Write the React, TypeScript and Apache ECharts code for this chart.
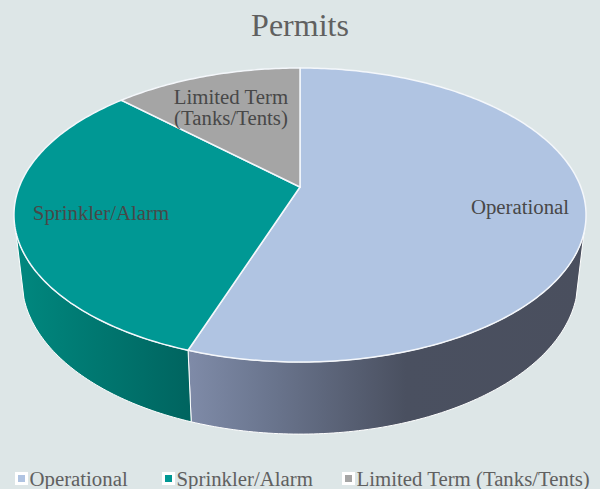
import React, { useEffect, useRef } from "react";
import * as echarts from "echarts";

const names = ["Operational", "Sprinkler/Alarm", "Limited Term (Tanks/Tents)"];
const sliceLabels = ["Operational", "Sprinkler/Alarm", "Limited Term\n(Tanks/Tents)"];
const values = [55.3, 31.9, 12.8];
const titleText = "Permits";

const FONT = '"Liberation Serif", serif';
const topColors = ["#b0c4e2", "#009894", "#a5a5a5"];
const sideStops = [
  [[0, "#7f8ba8"], [0.2, "#6b768f"], [0.55, "#4a5060"], [1, "#4a4f5e"]],
  [[0, "#00887f"], [1, "#00645f"]],
  null,
];
const labelAnchors = [[520, 206], [101, 212], [231, 107]];
const legendIconLeft = [15, 162, 342];

// Perspective projection of the unit circle that forms the pie's top and bottom faces.
const CX = 300, TOP_Y = 187, BOTTOM_Y = 250.7, BOTTOM_SX = 0.972, BOTTOM_SY = 1.048;
const A = 280.8, B = 141.67, K = -0.1905;
const project = (t: number, sx: number, sy: number, y0: number) => {
  const u = Math.sin(t), v = -Math.cos(t), w = 1 + K * v;
  return [CX + (sx * A * u) / w, y0 + (sy * B * v) / w];
};
const arc = (a: number, b: number, sx: number, sy: number, y0: number) => {
  const n = Math.max(2, Math.ceil(Math.abs(b - a) / 0.015));
  const pts: number[][] = [];
  for (let i = 0; i <= n; i++) pts.push(project(a + ((b - a) * i) / n, sx, sy, y0));
  return pts;
};
const TOTAL = values.reduce((p, c) => p + c, 0);
const VIS_A = (107.5 * Math.PI) / 180, VIS_B = (252.5 * Math.PI) / 180;

const makeSeries = (idx: number) => ({
  type: "custom",
  name: names[idx],
  coordinateSystem: "none",
  silent: true,
  clip: false,
  itemStyle: { color: topColors[idx] },
  data: [values[idx]],
  renderItem: (_p: any, api: any) => {
    const before = values.slice(0, idx).reduce((p, c) => p + c, 0);
    const a0 = (before / TOTAL) * Math.PI * 2;
    const a1 = a0 + (Number(api.value(0)) / TOTAL) * Math.PI * 2;
    const children: any[] = [];
    const s0 = Math.max(a0, VIS_A), s1 = Math.min(a1, VIS_B);
    const stops = sideStops[idx];
    if (s1 > s0 && stops) {
      const pts = arc(s0, s1, 1, 1, TOP_Y).concat(arc(s1, s0, BOTTOM_SX, BOTTOM_SY, BOTTOM_Y));
      children.push({
        type: "polygon",
        shape: { points: pts },
        style: {
          fill: new echarts.graphic.LinearGradient(0, 0, 1, 0,
            stops.map(([offset, color]) => ({ offset: offset as number, color: color as string }))),
          stroke: "#ffffff",
          lineWidth: 1,
        },
      });
    }
    children.push({
      type: "polygon",
      shape: { points: [[CX, TOP_Y], ...arc(a0, a1, 1, 1, TOP_Y)] },
      style: { fill: topColors[idx], stroke: "#f4f7fb", lineWidth: 1.5 },
    });
    children.push({
      type: "text",
      style: {
        text: sliceLabels[idx],
        x: labelAnchors[idx][0],
        y: labelAnchors[idx][1],
        textAlign: "center",
        textVerticalAlign: "middle",
        font: `20.8px ${FONT}`,
        lineHeight: 21,
        fill: "#484848",
      },
    });
    return { type: "group", children };
  },
});

export default function App() {
  const ref = useRef<HTMLDivElement>(null);
  useEffect(() => {
    const chart = echarts.init(ref.current!, null, { renderer: "svg" });
    chart.setOption({
      animation: false,
      backgroundColor: "#dde6e7",
      title: {
        text: titleText,
        left: "center",
        top: 4,
        textStyle: { fontFamily: FONT, fontSize: 32, fontWeight: "normal", color: "#606060" },
      },
      legend: names.map((n, i) => ({
        data: [n],
        left: legendIconLeft[i],
        top: 468,
        icon: "rect",
        itemWidth: 10,
        itemHeight: 10,
        itemGap: 0,
        padding: 0,
        selectedMode: false,
        itemStyle: { borderColor: "#ffffff", borderWidth: 3 },
        textStyle: { fontFamily: FONT, fontSize: 20.8, lineHeight: 18, color: "#606060", padding: [0, 0, 0, -2] },
      })),
      series: names.map((_, i) => makeSeries(i)),
    });
    return () => chart.dispose();
  }, []);
  return <div ref={ref} style={{ position: "absolute", left: 0, top: 0, width: 600, height: 489 }} />;
}
